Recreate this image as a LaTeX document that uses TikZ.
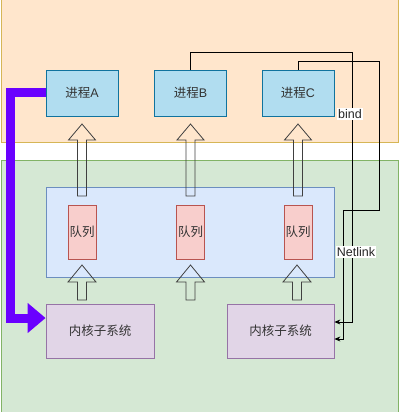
\documentclass[tikz,border=0pt]{standalone}
\usepackage{fontspec}
\setmainfont{Liberation Sans}
\newfontfamily\cjk{Noto Sans CJK SC}
\usetikzlibrary{arrows.meta, positioning}

\definecolor{zoneUser}{HTML}{FFE6CC}
\definecolor{zoneUserLine}{HTML}{D6B656}
\definecolor{zoneKern}{HTML}{D5E8D4}
\definecolor{zoneKernLine}{HTML}{82B366}
\definecolor{procFill}{HTML}{B1DDF0}
\definecolor{procLine}{HTML}{10739E}
\definecolor{sockFill}{HTML}{DAE8FC}
\definecolor{sockLine}{HTML}{6C8EBF}
\definecolor{queueFill}{HTML}{F8CECC}
\definecolor{queueLine}{HTML}{B85450}
\definecolor{kernFill}{HTML}{E1D5E7}
\definecolor{kernLine}{HTML}{9673A6}
\definecolor{violet}{HTML}{6A00FF}

\tikzset{
  procbox/.style={draw=procLine, fill=procFill, line width=0.8pt,
    minimum width=72pt, minimum height=46pt, text=black!80},
  queuebox/.style={draw=queueLine, fill=queueFill, line width=0.8pt,
    minimum width=28pt, minimum height=54pt, inner sep=0pt, text=black!80},
  kernbox/.style={draw=kernLine, fill=kernFill, line width=0.8pt,
    minimum width=108pt, minimum height=54pt, text=black!80},
  hollowarrow/.style={draw=black!75, line width=0.8pt},
  link/.style={draw=black, line width=0.8pt, -{Stealth[length=6pt, width=5pt]}},
  tag/.style={fill=white, inner sep=1pt, text=black!85}
}

\begin{document}
\begin{tikzpicture}[x=1pt, y=-1pt, font=\fontsize{12.5}{15}\selectfont]
  \useasboundingbox (0,0) rectangle (400,412);
  % user space and kernel space
  \draw[draw=zoneUserLine, fill=zoneUser, line width=0.8pt] (1,-1) rectangle (398,142);
  \draw[draw=zoneKernLine, fill=zoneKern, line width=0.8pt] (1,160) rectangle (398,413);
  % socket layer
  \node[draw=sockLine, fill=sockFill, line width=0.8pt,
    minimum width=288pt, minimum height=90pt] (sock) at (190,232) {};
  % processes
  \node[procbox] (pA) at (82,93) {{\cjk 进程}A};
  \node[procbox] (pB) at (190.5,93) {{\cjk 进程}B};
  \node[procbox] (pC) at (298,93) {{\cjk 进程}C};
  % queues
  \node[queuebox] (qA) at (82,232) {\cjk 队列};
  \node[queuebox] (qB) at (190.5,232) {\cjk 队列};
  \node[queuebox] (qC) at (298,232) {\cjk 队列};
  % kernel subsystems
  \node[kernbox] (kL) at (100,331) {\cjk 内核子系统};
  \node[kernbox, minimum width=107pt] (kR) at (280.5,331) {\cjk 内核子系统};
  % hollow arrows queue -> process
  \foreach \cx in {82,190.5,298}
    \draw[hollowarrow] (\cx,124) -- ++(13.5,16) -- ++(-9,0) -- ++(0,56)
      -- ++(-9,0) -- ++(0,-56) -- ++(-9,0) -- cycle;
  % hollow arrows kernel -> queue
  \foreach \cx in {82,190.5,297}
    \draw[hollowarrow] (\cx,265) -- ++(14,17) -- ++(-9.5,0) -- ++(0,18)
      -- ++(-9,0) -- ++(0,-18) -- ++(-9.5,0) -- cycle;
  % direct call from process A
  \draw[violet, line width=9pt, -{Triangle[length=18pt, width=29pt]}]
    (pA.west |- 0,92.5) -- (10.5,92.5) -- (10.5,318) -- ([yshift=13pt]kL.west);
  % bind / netlink links
  \draw[link] (pB.north) -- (pB.north |- 0,52) -- (352,52) -- (352,322)
    -- ([yshift=9pt]kR.east);
  \draw[link] (pC.north) -- (pC.north |- 0,61) -- (379,61) -- (379,210)
    -- (343,210) -- (343,339) -- ([yshift=-8pt]kR.east);
  \node[tag] (bind) at (350,114) {bind};
  \node[tag] (netlink) at (356,252) {Netlink};
\end{tikzpicture}
\end{document}
